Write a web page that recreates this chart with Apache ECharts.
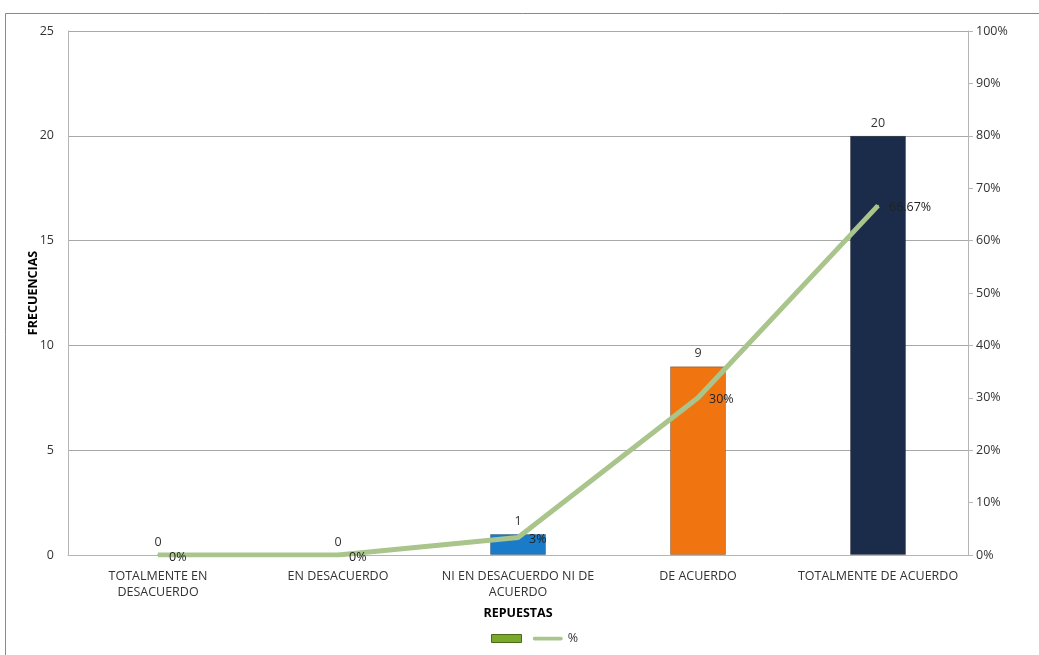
<!DOCTYPE html>
<html><head><meta charset="utf-8">
<script src="https://cdn.jsdelivr.net/npm/echarts@6/dist/echarts.min.js"></script>
<style>html,body{margin:0;padding:0;background:#fff}#c{width:1039px;height:655px}</style>
</head><body><div id="c"></div>
<script>
const categories = ['TOTALMENTE EN\nDESACUERDO', 'EN DESACUERDO', 'NI EN DESACUERDO NI DE\nACUERDO', 'DE ACUERDO', 'TOTALMENTE DE ACUERDO'];
const frecuencias = [0, 0, 1, 9, 20];
const porcentajes = [0, 0, 3.33, 30, 66.67];
const porcentajeLabels = ['0%', '0%', '3%', '30%', '66.67%'];
const barColors = ['#1a7cc9', '#1a7cc9', '#1a7cc9', '#f07511', '#1b2c4a'];

const font = 'Open Sans';
const fs = 12.5;
const chart = echarts.init(document.getElementById('c'), null, {renderer: 'canvas'});
chart.setOption({
  animation: false,
  textStyle: {fontFamily: font},
  graphic: [{type: 'rect', shape: {x: 5.5, y: 13.5, width: 1100, height: 700}, style: {fill: 'none', stroke: '#8a8a8a', lineWidth: 1}, z: -1}],
  grid: {left: 68, right: 71, top: 31, bottom: 100},
  legend: {
    bottom: 5, left: 486, itemWidth: 30, itemHeight: 8, itemGap: 3,
    textStyle: {fontSize: fs, color: '#333', fontFamily: font},
    data: [
      {name: ' ', icon: 'rect', itemStyle: {color: '#7aa82a', borderColor: '#4a6a18', borderWidth: 1}},
      {name: '%', icon: 'path://M2,0 L30,0 A2,2 0 0 1 30,4 L2,4 A2,2 0 0 1 2,0 Z', itemStyle: {color: '#a9c58c', opacity: 1, borderWidth: 0}}
    ]
  },
  xAxis: {
    type: 'category', data: categories,
    name: 'REPUESTAS', nameLocation: 'middle', nameGap: 52,
    nameTextStyle: {fontWeight: 'bold', fontSize: fs, color: '#000', fontFamily: font},
    axisLine: {lineStyle: {color: '#b5b5b5'}}, axisTick: {show: false},
    axisLabel: {color: '#333', fontSize: fs, interval: 0, lineHeight: 16, margin: 13, fontFamily: font}
  },
  yAxis: [{
    type: 'value', min: 0, max: 25, interval: 5,
    name: 'FRECUENCIAS', nameLocation: 'middle', nameGap: 28, nameMoveOverlap: false,
    nameTextStyle: {fontWeight: 'bold', fontSize: fs, color: '#000', fontFamily: font},
    axisLine: {show: true, lineStyle: {color: '#b5b5b5'}}, axisTick: {show: false},
    axisLabel: {color: '#333', fontSize: fs, margin: 14, fontFamily: font},
    splitLine: {lineStyle: {color: '#a8a8a8'}}
  }, {
    type: 'value', min: 0, max: 100, interval: 10, position: 'right',
    axisLine: {show: true, lineStyle: {color: '#b5b5b5'}},
    axisTick: {show: true, length: 5, lineStyle: {color: '#b5b5b5'}},
    axisLabel: {color: '#333', fontSize: fs, margin: 8, formatter: '{value}%', fontFamily: font},
    splitLine: {show: false}
  }],
  series: [{
    name: ' ', type: 'bar', barWidth: 56, color: '#7aa82a',
    data: frecuencias.map((v, i) => ({value: v, itemStyle: {color: barColors[i], borderColor: v ? 'rgba(0,0,0,0.25)' : 'transparent', borderWidth: v ? 1 : 0, opacity: v ? 1 : 0}})),
    label: {show: true, position: 'top', color: '#333', fontSize: fs, distance: 6, fontFamily: font, opacity: 1},
    z: 2
  }, {
    name: '%', type: 'line', yAxisIndex: 1, data: porcentajes, symbol: 'circle', symbolSize: 2, showSymbol: true,
    lineStyle: {color: '#a9c58c', width: 5}, itemStyle: {color: '#a9c58c'},
    label: {show: true, position: 'right', distance: 10, offset: [0, 2], color: '#222', fontSize: fs, fontFamily: font,
      formatter: p => porcentajeLabels[p.dataIndex]},
    z: 3
  }]
});
</script></body></html>
